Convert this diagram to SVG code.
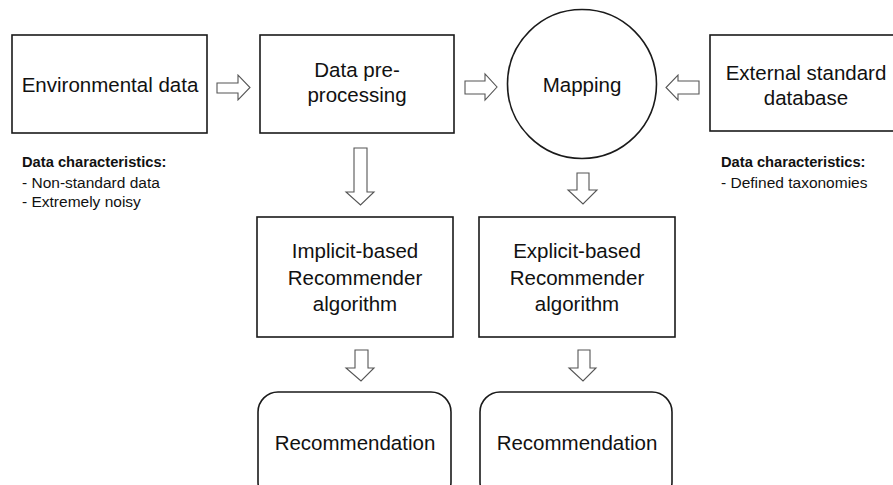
<svg xmlns="http://www.w3.org/2000/svg" width="893" height="485" viewBox="0 0 893 485">
<style>
.box{fill:#fff;stroke:#1a1a1a;stroke-width:1.6}
.arr{fill:#fff;stroke:#555;stroke-width:1.1;stroke-linejoin:miter}
.t{font-family:"Liberation Sans",Arial,sans-serif;font-size:20.5px;fill:#111;text-anchor:middle}
.s{font-family:"Liberation Sans",Arial,sans-serif;font-size:15.5px;fill:#111}
.b{font-weight:bold;font-size:14.7px}
</style>
<rect width="893" height="485" fill="#fff"/>
<g id="connectors">
<polygon class="arr" points="217,83 238,83 238,75 250,87.5 238,100 238,93 217,93"/>
<polygon class="arr" points="465,81 485,81 485,74 497,87 485,100 485,94 465,94"/>
<polygon class="arr" points="699,81 678,81 678,75 666,87.5 678,100 678,94 699,94"/>
<polygon class="arr" points="354,148 367,148 367,192 374,192 360.5,205 346,192 354,192"/>
<polygon class="arr" points="577,173 589,173 589,190 597,190 583,204 568,190 577,190"/>
<polygon class="arr" points="355,350 368,350 368,368 374,368 361,381 346,368 355,368"/>
<polygon class="arr" points="578,350 590,350 590,368 596,368 583,381 569,368 578,368"/>
</g>
<g id="env">
<rect class="box" x="12" y="35" width="195" height="98"/>
<text class="t" x="110" y="92">Environmental data</text>
</g>
<g id="env-notes">
<text class="s b" x="22" y="167">Data characteristics:</text>
<text class="s" x="22" y="188">- Non-standard data</text>
<text class="s" x="22" y="207">- Extremely noisy</text>
</g>
<g id="preproc">
<rect class="box" x="260" y="35" width="194" height="98"/>
<text class="t" x="357" y="77">Data pre-</text>
<text class="t" x="357" y="102">processing</text>
</g>
<g id="mapping">
<circle class="box" cx="582" cy="84" r="74.5"/>
<text class="t" x="582" y="92">Mapping</text>
</g>
<g id="external">
<rect class="box" x="710" y="35" width="190" height="96"/>
<text class="t" x="806" y="80">External standard</text>
<text class="t" x="806" y="105">database</text>
</g>
<g id="ext-notes">
<text class="s b" x="721" y="167">Data characteristics:</text>
<text class="s" x="721" y="188">- Defined taxonomies</text>
</g>
<g id="implicit">
<rect class="box" x="257" y="217" width="196" height="120"/>
<text class="t" x="355" y="258">Implicit-based</text>
<text class="t" x="355" y="285">Recommender</text>
<text class="t" x="355" y="311">algorithm</text>
</g>
<g id="explicit">
<rect class="box" x="479" y="217" width="196" height="120"/>
<text class="t" x="577" y="258">Explicit-based</text>
<text class="t" x="577" y="285">Recommender</text>
<text class="t" x="577" y="311">algorithm</text>
</g>
<g id="rec1">
<rect class="box" x="258" y="392" width="193" height="110" rx="20"/>
<text class="t" x="355" y="450">Recommendation</text>
</g>
<g id="rec2">
<rect class="box" x="480" y="392" width="192" height="110" rx="20"/>
<text class="t" x="577" y="450">Recommendation</text>
</g>
</svg>
